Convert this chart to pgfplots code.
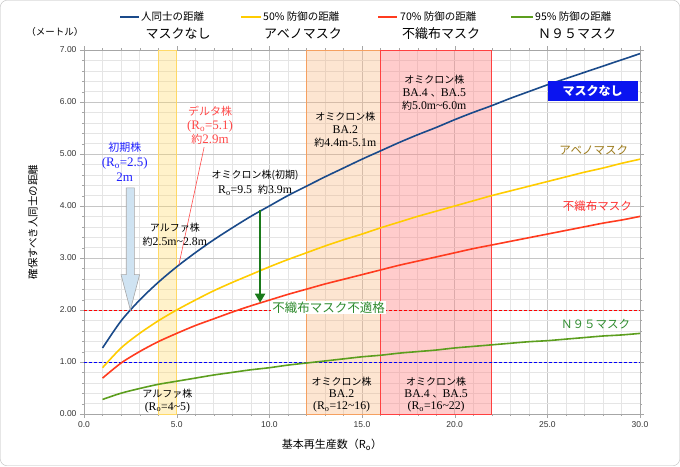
\documentclass[border=0pt]{standalone}
\usepackage{fontspec}
\setmainfont{Liberation Sans}
\newfontfamily\jp{Noto Sans CJK JP}
\newfontfamily\srf[Scale=1.18]{Liberation Serif}
\usepackage{pgfplots}
\pgfplotsset{compat=1.18}
\usetikzlibrary{arrows.meta}
\definecolor{cNone}{HTML}{1A4A8A}
\definecolor{cFifty}{HTML}{FFCC00}
\definecolor{cSeventy}{HTML}{FF3B1F}
\definecolor{cNinety}{HTML}{5C9E1E}
\definecolor{cAbeno}{HTML}{9C7A1A}
\definecolor{cFushoku}{HTML}{FF3030}
\definecolor{cN95}{HTML}{2E8B2E}
\definecolor{cEarly}{HTML}{2020FF}
\definecolor{cDelta}{HTML}{FF4A4A}
\definecolor{cArrow}{HTML}{1A7A1A}
\definecolor{cBox}{HTML}{0A14F0}
\definecolor{bandY}{HTML}{FFD966}
\definecolor{bandYe}{HTML}{FFD966}
\definecolor{bandO}{HTML}{F8A868}
\definecolor{bandOe}{HTML}{F5A060}
\definecolor{bandR}{HTML}{FF8080}
\definecolor{bandRe}{HTML}{FF4040}
\newcommand{\fs}[2]{\fontsize{#1}{#2}\selectfont}
\begin{document}
\begin{tikzpicture}[x=1pt,y=1pt]
\path[use as bounding box] (0,0) rectangle (680,466);
\draw[gray!55, rounded corners=6pt] (0.5,0.5) rectangle (679.5,465.5);
% legend
\draw[cNone, line width=1.6pt] (120,449) -- (139,449);
\node[anchor=west, inner sep=1pt, font=\fs{10.5}{12}] at (140,449) {\jp 人同士の距離};
\draw[cFifty, line width=1.6pt] (241,449) -- (261,449);
\node[anchor=west, inner sep=1pt, font=\fs{10.5}{12}] at (262,449) {\jp 50\% 防御の距離};
\draw[cSeventy, line width=1.6pt] (378,449) -- (397,449);
\node[anchor=west, inner sep=1pt, font=\fs{10.5}{12}] at (399,449) {\jp 70\% 防御の距離};
\draw[cNinety, line width=1.6pt] (511,449) -- (533,449);
\node[anchor=west, inner sep=1pt, font=\fs{10.5}{12}] at (534,449) {\jp 95\% 防御の距離};
\node[font=\fs{13}{15}] at (178,432) {\jp マスクなし};
\node[font=\fs{13}{15}] at (303,432) {\jp アベノマスク};
\node[font=\fs{13}{15}] at (441,432) {\jp 不織布マスク};
\node[font=\fs{13}{15}] at (577,432) {\jp Ｎ９５マスク};
\node[font=\fs{9.5}{11}] at (55,434) {\jp （メートル）};
\node[rotate=90, font=\fs{10.5}{12}] at (33,244) {\jp 確保すべき人同士の距離};
\node[font=\fs{11}{13}] at (332,21) {\jp 基本再生産数（R\textsubscript{o}）};
\begin{axis}[
  at={(84pt,52pt)}, anchor=south west,
  scale only axis, width=556pt, height=364pt,
  xmin=0, xmax=30, ymin=0, ymax=7,
  xtick={0,5,...,30}, ytick={0,1,...,7},
  minor x tick num=4, minor y tick num=4,
  grid=both,
  major grid style={gray!45, line width=0.5pt},
  minor grid style={gray!20, line width=0.5pt},
  axis line style={gray!70},
  tick style={gray!70},
  tick align=outside,
  major tick length=4pt, minor tick length=2pt,
  clip=false,
  /pgf/number format/assume math mode=true,
  tick label style={font=\fs{8.5}{10}, color=black!80},
  xticklabel style={/pgf/number format/.cd, fixed, fixed zerofill, precision=1},
  yticklabel style={/pgf/number format/.cd, fixed, fixed zerofill, precision=2},
]
% bands
\addplot[fill=bandY, fill opacity=0.35, draw=bandYe, line width=0.8pt] coordinates {(4,0) (4,7) (5,7) (5,0)} --cycle;
\addplot[fill=bandO, fill opacity=0.30, draw=bandOe, line width=0.8pt] coordinates {(12,0) (12,7) (16,7) (16,0)} --cycle;
\addplot[fill=bandR, fill opacity=0.40, draw=bandRe, line width=0.8pt] coordinates {(16,0) (16,7) (22,7) (22,0)} --cycle;
% reference lines
\addplot[red, densely dashed, line width=0.5pt] coordinates {(0,2) (30,2)};
\addplot[blue, densely dashed, line width=0.5pt] coordinates {(0,1) (30,1)};
% curves
\addplot[cNone, line width=1.6pt, smooth] coordinates {
(1,1.27)(2,1.79)(3,2.19)(4,2.53)(5,2.83)(6,3.10)(7,3.35)(8,3.58)(9,3.80)(10,4.00)
(11,4.20)(12,4.38)(13,4.56)(14,4.73)(15,4.90)(16,5.06)(17,5.22)(18,5.37)(19,5.51)(20,5.66)
(21,5.80)(22,5.93)(23,6.07)(24,6.20)(25,6.33)(26,6.45)(27,6.57)(28,6.69)(29,6.81)(30,6.93)};
\addplot[cFifty, line width=1.6pt, smooth] coordinates {
(1,0.89)(2,1.27)(3,1.55)(4,1.79)(5,2.00)(6,2.19)(7,2.37)(8,2.53)(9,2.68)(10,2.83)
(11,2.97)(12,3.10)(13,3.23)(14,3.35)(15,3.46)(16,3.58)(17,3.69)(18,3.80)(19,3.90)(20,4.00)
(21,4.10)(22,4.20)(23,4.29)(24,4.38)(25,4.47)(26,4.56)(27,4.65)(28,4.73)(29,4.82)(30,4.90)};
\addplot[cSeventy, line width=1.6pt, smooth] coordinates {
(1,0.69)(2,0.98)(3,1.20)(4,1.39)(5,1.55)(6,1.70)(7,1.83)(8,1.96)(9,2.08)(10,2.19)
(11,2.30)(12,2.40)(13,2.50)(14,2.59)(15,2.68)(16,2.77)(17,2.86)(18,2.94)(19,3.02)(20,3.10)
(21,3.18)(22,3.25)(23,3.32)(24,3.39)(25,3.46)(26,3.53)(27,3.60)(28,3.67)(29,3.73)(30,3.80)};
\addplot[cNinety, line width=1.6pt, smooth] coordinates {
(1,0.28)(2,0.40)(3,0.49)(4,0.57)(5,0.63)(6,0.69)(7,0.75)(8,0.80)(9,0.85)(10,0.89)
(11,0.94)(12,0.98)(13,1.02)(14,1.06)(15,1.10)(16,1.13)(17,1.17)(18,1.20)(19,1.23)(20,1.27)
(21,1.30)(22,1.33)(23,1.36)(24,1.39)(25,1.41)(26,1.44)(27,1.47)(28,1.50)(29,1.52)(30,1.55)};
% early strain block arrow
\draw[gray!70, fill={rgb,255:red,207;green,227;blue,242}, line width=0.6pt]
  (axis cs:2.28,4.35) -- (axis cs:2.72,4.35) -- (axis cs:2.72,2.68) -- (axis cs:3.0,2.68)
  -- (axis cs:2.5,2.0) -- (axis cs:2.0,2.68) -- (axis cs:2.28,2.68) -- cycle;
\node[align=center, text=cEarly, font=\fs{11}{15}] at (axis cs:2.2,4.85)
  {{\jp 初期株}\\{\srf (R\textsubscript{o}=2.5)}\\{\srf 2m}};
% delta
\draw[cDelta, line width=0.6pt] (axis cs:6.48,5.13) -- (axis cs:5.12,2.87);
\node[align=center, text=cDelta, font=\fs{11}{14}] at (axis cs:6.8,5.55)
  {{\jp デルタ株}\\{\srf (R\textsubscript{o}=5.1)}\\{\jp 約}{\srf 2.9m}};
% omicron early
\node[align=center, font=\fs{10}{15}] at (axis cs:9.23,4.45)
  {{\jp オミクロン株(初期)}\\{\srf R\textsubscript{o}=9.5\ \ }{\jp 約}{\srf 3.9m}};
\draw[cArrow, line width=2pt, -{Triangle[length=9pt,width=10pt]}] (axis cs:9.5,3.93) -- (axis cs:9.5,2.14);
\node[anchor=west, fill=white, inner sep=1pt, text=cN95, font=\fs{12.5}{14}] at (axis cs:10.1,2.05) {\jp 不織布マスク不適格};
% alpha top
\node[align=center, font=\fs{10}{13.5}] at (axis cs:4.9,3.45)
  {{\jp アルファ株}\\{\jp 約}{\srf 2.5m\textasciitilde 2.8m}};
% omicron BA.2 top
\node[align=center, font=\fs{10}{13}] at (axis cs:14.1,5.47)
  {{\jp オミクロン株}\\{\srf BA.2}\\{\jp 約}{\srf 4.4m-5.1m}};
% omicron BA.4/5 top
\node[align=center, font=\fs{10}{13}] at (axis cs:18.9,6.18)
  {{\jp オミクロン株}\\{\srf BA.4 }{\jp 、}{\srf BA.5}\\{\jp 約}{\srf 5.0m\textasciitilde 6.0m}};
% bottom labels
\node[align=center, font=\fs{10}{13}] at (axis cs:4.5,0.25)
  {{\jp アルファ株}\\{\srf (R\textsubscript{o}=4\textasciitilde 5)}};
\node[align=center, font=\fs{10}{12}] at (axis cs:13.9,0.37)
  {{\jp オミクロン株}\\{\srf BA.2}\\{\srf (R\textsubscript{o}=12\textasciitilde 16)}};
\node[align=center, font=\fs{10}{12}] at (axis cs:19.0,0.37)
  {{\jp オミクロン株}\\{\srf BA.4 }{\jp 、}{\srf BA.5}\\{\srf (R\textsubscript{o}=16\textasciitilde 22)}};
% right labels
\node[fill=cBox, text=white, minimum width=90pt, minimum height=20pt, inner sep=0pt, font=\fs{12}{14}\bfseries] at (axis cs:27.45,6.21) {\jp マスクなし};
\node[text=cAbeno, font=\fs{11.5}{13}] at (axis cs:27.5,5.08) {\jp アベノマスク};
\node[text=cFushoku, font=\fs{11.5}{13}] at (axis cs:27.7,4.0) {\jp 不織布マスク};
\node[text=cN95, font=\fs{11.5}{13}] at (axis cs:27.6,1.73) {\jp Ｎ９５マスク};
\end{axis}
\end{tikzpicture}
\end{document}
